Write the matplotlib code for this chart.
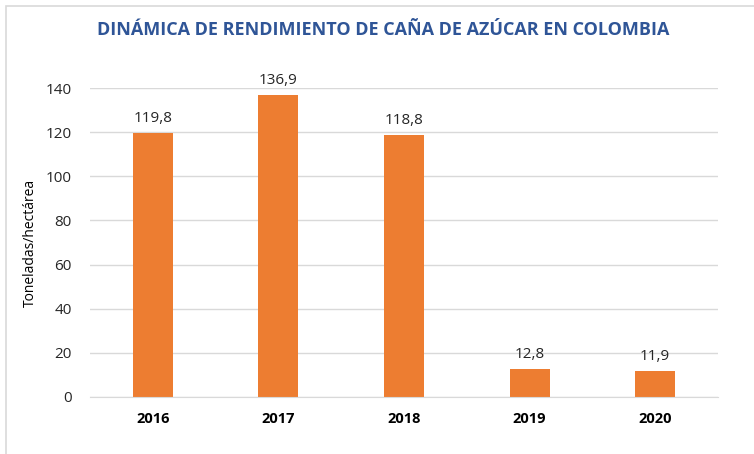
import matplotlib
matplotlib.use("Agg")
import matplotlib.pyplot as plt
from matplotlib.patches import Rectangle

years = ["2016", "2017", "2018", "2019", "2020"]
values = [119.8, 136.9, 118.8, 12.8, 11.9]
labels = ["119,8", "136,9", "118,8", "12,8", "11,9"]

plt.rcParams['font.family'] = ['Open Sans', 'DejaVu Sans']

W, H = 754, 454
fig = plt.figure(figsize=(W/100, H/100), dpi=100)
ax = fig.add_axes([90/W, 1-397/H, (718-90)/W, (397-88)/H])

x = list(range(len(years)))
ax.bar(x, values, width=0.32, color="#ED7D31", zorder=3)
for xi, v, lab in zip(x, values, labels):
    ax.text(xi, v + 3, lab, ha="center", va="bottom", fontsize=11, color="#262626")

ax.set_xlim(-0.5, len(years) - 0.5)
ax.set_ylim(0, 140)
ax.set_yticks(range(0, 141, 20))
ax.set_xticks(x)
ax.set_xticklabels(years, fontweight="bold", fontsize=10.5, color="#000000")
ax.tick_params(axis="y", labelsize=11, colors="#262626", length=0, pad=13)
ax.tick_params(axis="x", length=0, pad=11)
ax.grid(axis="y", color="#D9D9D9", linewidth=1, zorder=0)
for s in ["top", "right", "left"]:
    ax.spines[s].set_visible(False)
ax.spines["bottom"].set_color("#D9D9D9")
ax.spines["bottom"].set_zorder(4)
ax.set_ylabel("Toneladas/hectárea", fontsize=10, color="#000000", labelpad=6)

fig.text(383/W, 1-30/H, "DINÁMICA DE RENDIMIENTO DE CAÑA DE AZÚCAR EN COLOMBIA",
         ha="center", va="center", fontsize=13, fontweight="bold", color="#2F5597")

fig.patches.append(Rectangle((6/W, -0.1), 1.1, (1-6/H)+0.1, transform=fig.transFigure,
                             fill=False, edgecolor="#D9D9D9", linewidth=1.2))

fig.savefig("out.png", dpi=100, facecolor="white")
